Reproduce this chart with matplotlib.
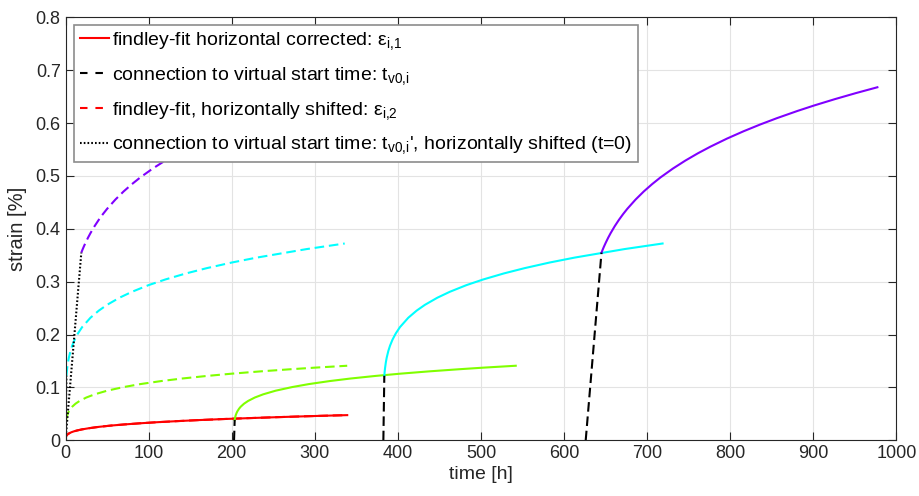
import matplotlib
matplotlib.use('Agg')
from matplotlib import pyplot as plt

# findley fits (dt = time since virtual start)
red_t = [0, 0.1, 0.5, 1, 2, 3, 5, 7, 10, 14, 20, 28, 40, 55, 70, 90, 110, 135, 160, 190, 220, 250, 280, 310, 339]
red_eps = [0, 0.0043, 0.0070, 0.0085, 0.0105, 0.0118, 0.0137, 0.0152, 0.0169, 0.0186, 0.0207, 0.0228,
           0.0254, 0.0279, 0.0299, 0.0322, 0.0342, 0.0363, 0.0382, 0.0402, 0.0419, 0.0435, 0.0450, 0.0464, 0.0476]

green_v0 = 202.8
green_dt = [0.76, 1, 1.5, 2, 3, 4, 6, 8, 12, 17, 25, 35, 50, 70, 90, 115, 140, 170, 200, 235, 270, 300, 339]
green_eps = [0.0384, 0.0408, 0.0444, 0.0473, 0.0515, 0.0548, 0.0597, 0.0635, 0.0692, 0.0745, 0.0809, 0.0869,
             0.0938, 0.1007, 0.1063, 0.1120, 0.1168, 0.1217, 0.1260, 0.1304, 0.1343, 0.1374, 0.1410]

cyan_v0 = 382.5
cyan_dt = [1.14, 1.5, 2, 3, 4, 6, 8, 11, 15, 20, 30, 40, 50, 65, 80, 100, 120, 145, 170, 200, 230, 290, 336]
cyan_eps = [0.1221, 0.1288, 0.1363, 0.1476, 0.1562, 0.1691, 0.1789, 0.1904, 0.2023, 0.2141, 0.2318, 0.2452,
            0.2562, 0.2697, 0.2809, 0.2935, 0.3041, 0.3156, 0.3256, 0.3362, 0.3455, 0.3616, 0.3722]

purple_v0 = 626
purple_dt = [19, 20.5, 22, 24, 27, 30, 35, 40, 45, 50, 60, 70, 80, 90, 105, 120, 135, 150, 170, 190, 210,
             230, 255, 275, 300, 325, 351]
purple_eps = [0.3549, 0.3608, 0.3664, 0.3733, 0.3830, 0.3918, 0.4051, 0.4170, 0.4278, 0.4377, 0.4553, 0.4708,
              0.4846, 0.4972, 0.5140, 0.5291, 0.5428, 0.5553, 0.5706, 0.5845, 0.5973, 0.6092, 0.6230, 0.6333,
              0.6453, 0.6566, 0.6677]

stages = [
    (green_v0, green_dt, green_eps, '#80ff00'),
    (cyan_v0, cyan_dt, cyan_eps, '#00ffff'),
    (purple_v0, purple_dt, purple_eps, '#8000ff'),
]

plt.rcParams['font.family'] = ['Liberation Sans', 'DejaVu Sans']
plt.rcParams['mathtext.fontset'] = 'custom'
plt.rcParams['mathtext.rm'] = 'Liberation Sans'
plt.rcParams['font.size'] = 13
plt.rcParams['lines.solid_joinstyle'] = 'round'
plt.rcParams['lines.dash_joinstyle'] = 'round'

dark = '#262626'
lw = 1.5
dash = (4.6, 2.3)
dot = (0.8, 1.0)
leg_dash = (3.6, 3.8)

fig = plt.figure(figsize=(9.19, 4.96), dpi=100)
ax = fig.add_axes([0.0713, 0.1123, 0.9042, 0.8528])

# red: virtual start is t=0, so solid and shifted curve coincide
ax.plot(red_t, red_eps, color='#ff0000', lw=lw)
ax.plot(red_t, red_eps, color='#ff0000', lw=lw, dashes=dash)

for v0, dt, eps, c in stages:
    ax.plot([v0 + d for d in dt], eps, color=c, lw=lw)
    ax.plot(dt, eps, color=c, lw=lw, dashes=dash)
    ax.plot([v0, v0 + dt[0]], [0, eps[0]], color='k', lw=lw, dashes=dash)
    ax.plot([0, dt[0]], [0, eps[0]], color='k', lw=lw, dashes=dot)

# legend handles
h1, = ax.plot([], [], color='#ff0000', lw=lw)
h2, = ax.plot([], [], color='k', lw=lw, dashes=leg_dash)
h3, = ax.plot([], [], color='#ff0000', lw=lw, dashes=leg_dash)
h4, = ax.plot([], [], color='k', lw=lw, dashes=dot)
labels = [
    r'findley-fit horizontal corrected: $\mathregular{ε_{i{,}1}}$',
    r'connection to virtual start time: $\mathregular{t_{v0{,}i}}$',
    r'findley-fit, horizontally shifted: $\mathregular{ε_{i{,}2}}$',
    r"connection to virtual start time: $\mathregular{t_{v0{,}i}}$', horizontally shifted (t=0)",
]
leg = ax.legend([h1, h2, h3, h4], labels, loc='upper left', bbox_to_anchor=(0.0102, 0.983),
                borderaxespad=0, fancybox=False, framealpha=1, edgecolor='#8c8c8c',
                handlelength=1.5, handletextpad=0.15, labelspacing=0.66, borderpad=0.3,
                fontsize=14)
leg.get_frame().set_linewidth(1.2)

ax.set_xlim(0, 1000)
ax.set_ylim(0, 0.8)
ax.set_xticks(range(0, 1001, 100))
ax.set_yticks([0, 0.1, 0.2, 0.3, 0.4, 0.5, 0.6, 0.7, 0.8])
ax.set_yticklabels(['0', '0.1', '0.2', '0.3', '0.4', '0.5', '0.6', '0.7', '0.8'])
ax.grid(True, color='#e3e3e3', lw=0.8)
ax.set_axisbelow(True)
ax.tick_params(direction='in', length=6, width=0.8, top=True, right=True, colors=dark, labelsize=13)
for s in ax.spines.values():
    s.set_color(dark)
    s.set_linewidth(0.8)
ax.set_xlabel('time [h]', fontsize=14, color=dark, labelpad=3)
ax.set_ylabel('strain [%]', fontsize=14.5, color=dark, labelpad=6)

plt.savefig('out.png', dpi=100)
